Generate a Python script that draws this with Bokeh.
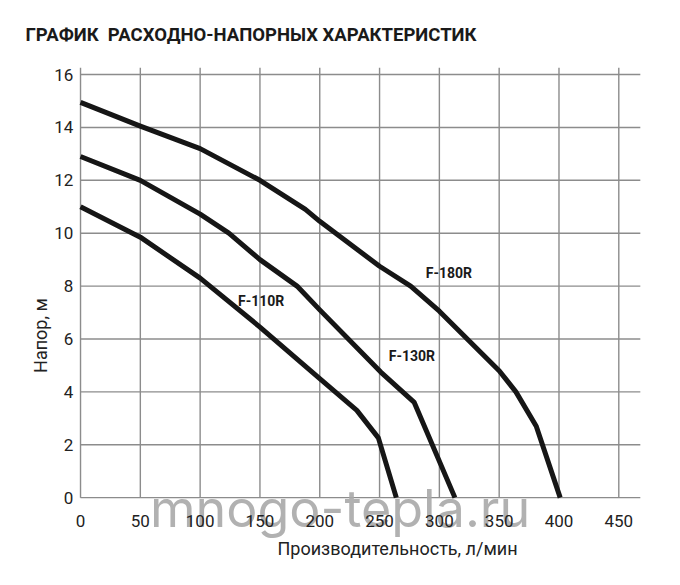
import math
from bokeh.plotting import figure
from bokeh.models import Range1d
from bokeh.core.properties import value
from bokeh.embed import file_html
from bokeh.resources import INLINE

# ---- data ----
x_ticks = [0, 50, 100, 150, 200, 250, 300, 350, 400, 450]
x_tick_labels = ["0", "50", "100", "150", "200", "250", "300", "350", "400", "450"]
y_ticks = [0, 2, 4, 6, 8, 10, 12, 14, 16]
y_tick_labels = ["0", "2", "4", "6", "8", "10", "12", "14", "16"]

f110_q = [0, 50, 100, 150, 200, 231, 249, 264]
f110_h = [11.0, 9.85, 8.3, 6.45, 4.5, 3.3, 2.26, 0]

f130_q = [0, 50, 100, 124, 150, 181, 200, 251, 279, 313]
f130_h = [12.9, 12.0, 10.72, 10.0, 9.0, 8.0, 7.1, 4.75, 3.6, 0]

f180_q = [0, 50, 100, 150, 188, 200, 250, 276, 300, 350, 364, 381, 401]
f180_h = [14.95, 14.05, 13.2, 12.0, 10.9, 10.45, 8.75, 8.0, 7.05, 4.8, 4.0, 2.7, 0]

series_names = ["F-110R", "F-130R", "F-180R"]
label_q = [151, 277, 308]
label_h = [7.45, 5.35, 8.5]

title_text = "ГРАФИК\u00a0\u00a0РАСХОДНО-НАПОРНЫХ ХАРАКТЕРИСТИК"
x_title = "Производительность, л/мин"
y_title = "Напор, м"
watermark = "mnogo-tepla.ru"

FONT = "Roboto"
INK = "#1a1a1a"
GRID = "#8c8c8c"

# the frame covers the whole canvas; the data window puts the plot area where the reference has it
p = figure(width=672, height=577, output_backend="svg", toolbar_location=None,
           x_range=Range1d(-66.9, 494.9), y_range=Range1d(-3.02, 18.8),
           x_axis_location=None, y_axis_location=None,
           min_border=0, min_border_left=0, min_border_right=0,
           min_border_top=0, min_border_bottom=0)
p.outline_line_color = None
p.background_fill_color = "white"
p.border_fill_color = "white"
p.xgrid.visible = False
p.ygrid.visible = False

x_top = 16.26     # vertical grid lines reach a little above the 16 line
y_right = 468     # horizontal grid lines end a little past 450
p.segment(x0=x_ticks, y0=[0] * len(x_ticks), x1=x_ticks, y1=[x_top] * len(x_ticks),
          line_color=GRID, line_width=1.4)
p.segment(x0=[0] * len(y_ticks), y0=y_ticks, x1=[y_right] * len(y_ticks), y1=y_ticks,
          line_color=GRID, line_width=1.4)

# watermark (behind the tick labels)
p.text(x=[217], y=[-0.4], text=[watermark], text_font=value("Inter"),
       text_font_size="52px", text_color="#a9a9a9", text_alpha=0.9,
       text_align="center", text_baseline="middle")

for q, h in ((f110_q, f110_h), (f130_q, f130_h), (f180_q, f180_h)):
    p.line(q, h, line_color="#161616", line_width=5, line_join="round", line_cap="butt")

p.text(x=label_q, y=label_h, text=series_names, text_font=value(FONT),
       text_font_style="bold", text_font_size="14px", text_color=INK,
       text_align="center", text_baseline="middle")

# tick labels
p.text(x=x_ticks, y=[-0.87] * len(x_ticks), text=x_tick_labels, text_font=value(FONT),
       text_font_size="17px", text_color="#222222", text_align="center", text_baseline="middle")
p.text(x=[-6.0] * len(y_ticks), y=y_ticks, text=y_tick_labels, text_font=value(FONT),
       text_font_size="17px", text_color="#222222", text_align="right", text_baseline="middle")

# titles
p.text(x=[-46], y=[17.5], text=[title_text], text_font=value(FONT), text_font_style="bold",
       text_font_size="18.5px", text_color=INK, text_align="left", text_baseline="middle")
p.text(x=[265], y=[-1.93], text=[x_title], text_font=value(FONT), text_font_size="18px",
       text_color="#222222", text_align="center", text_baseline="middle")
p.text(x=[-33.5], y=[6.13], text=[y_title], text_font=value(FONT), text_font_size="18px",
       text_color="#222222", text_align="center", text_baseline="middle", angle=math.pi / 2)

open("out.html", "w").write(file_html(p, INLINE))
